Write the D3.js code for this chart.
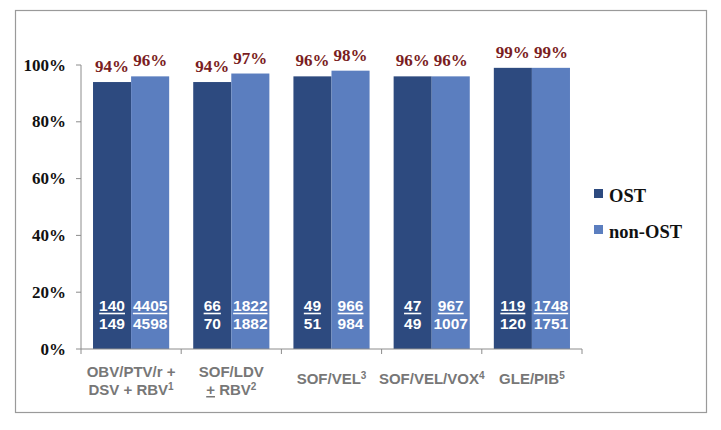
<!DOCTYPE html>
<html><head><meta charset="utf-8">
<script src="https://cdn.jsdelivr.net/npm/d3@7"></script>
<style>body{margin:0;background:#fff}svg{display:block}</style>
</head><body><svg id="c" width="721" height="430"></svg>
<script>
const categories = ["OBV/PTV/r + DSV + RBV1","SOF/LDV ± RBV2","SOF/VEL3","SOF/VEL/VOX4","GLE/PIB5"];
// each label line: array of [text, kind] where kind: n normal, s superscript, u underlined
const categoryLines = [
  [[["OBV/PTV/r +","n"]],[["DSV + RBV","n"],["1","s"]]],
  [[["SOF/LDV","n"]],[["+","u"],[" RBV","n"],["2","s"]]],
  [[["SOF/VEL","n"],["3","s"]]],
  [[["SOF/VEL/VOX","n"],["4","s"]]],
  [[["GLE/PIB","n"],["5","s"]]]
];
const seriesNames = ["OST","non-OST"];
const ostPct = [94,94,96,96,99];
const nonOstPct = [96,97,98,96,99];
const ostNum = [140,66,49,47,119];
const ostDen = [149,70,51,49,120];
const nonOstNum = [4405,1822,966,967,1748];
const nonOstDen = [4598,1882,984,1007,1751];
const yTicks = [0,20,40,60,80,100];

const colors = ["#2d4a7f","#5b7ebf"];
const svg = d3.select("#c");
svg.append("rect").attr("x",15.5).attr("y",10.5).attr("width",691).attr("height",402)
  .attr("fill","#fff").attr("stroke","#9a9a9a").attr("stroke-width",1.2);

const y = d3.scaleLinear().domain([0,100]).range([349,65]);
const x0 = d3.scaleBand().domain(categories).range([81,582]).paddingInner(0.24).paddingOuter(0.12);
const x1 = d3.scaleBand().domain(seriesNames).range([0,x0.bandwidth()]);

const pct = [ostPct, nonOstPct], num=[ostNum,nonOstNum], den=[ostDen,nonOstDen];
const data = [];
categories.forEach((c,i)=>seriesNames.forEach((s,j)=>data.push({c,i,s,j,v:pct[j][i],n:num[j][i],d:den[j][i]})));

const g = svg.append("g");
g.selectAll("rect.bar").data(data).join("rect").attr("class","bar")
  .attr("x",d=>x0(d.c)+x1(d.s)).attr("y",d=>y(d.v))
  .attr("width",x1.bandwidth()).attr("height",d=>y(0)-y(d.v)).attr("fill",d=>colors[d.j]);

// percent labels
g.selectAll("text.pct").data(data).join("text").attr("class","pct")
  .attr("x",d=>x0(d.c)+x1(d.s)+x1.bandwidth()/2).attr("y",d=>y(d.v)-10)
  .attr("text-anchor","middle").attr("font-family","Liberation Serif, serif").attr("font-weight","bold")
  .attr("font-size",17).attr("fill","#7a1d22").text(d=>d.v+"%");

// fractions
const fr = g.selectAll("g.fr").data(data).join("g").attr("class","fr")
  .attr("transform",d=>`translate(${x0(d.c)+x1(d.s)+x1.bandwidth()/2},0)`);
fr.append("text").attr("y",311).attr("text-anchor","middle").attr("font-family","Liberation Sans, Arial, sans-serif")
  .attr("font-weight","bold").attr("font-size",15.5).attr("fill","#fff").text(d=>d.n)
  .each(function(){ const w=this.getComputedTextLength(); d3.select(this.parentNode).append("line")
     .attr("x1",-w/2).attr("x2",w/2).attr("y1",313.5).attr("y2",313.5).attr("stroke","#fff").attr("stroke-width",1.6);});
fr.append("text").attr("y",329).attr("text-anchor","middle").attr("font-family","Liberation Sans, Arial, sans-serif")
  .attr("font-weight","bold").attr("font-size",15.5).attr("fill","#fff").text(d=>d.d);

// axes
const axisColor="#8c8c8c";
const ya = svg.append("g");
ya.append("line").attr("x1",81).attr("x2",81).attr("y1",y(100)).attr("y2",y(0)).attr("stroke",axisColor);
ya.selectAll("line.t").data(yTicks).join("line").attr("class","t").attr("x1",76).attr("x2",81)
  .attr("y1",d=>y(d)).attr("y2",d=>y(d)).attr("stroke",axisColor);
ya.selectAll("text").data(yTicks).join("text").attr("x",66).attr("y",d=>y(d)+5.5)
  .attr("text-anchor","end").attr("font-family","Liberation Serif, serif").attr("font-weight","bold")
  .attr("font-size",17).attr("fill","#111").text(d=>d+"%");

const xa = svg.append("g");
xa.append("line").attr("x1",81).attr("x2",582).attr("y1",y(0)).attr("y2",y(0)).attr("stroke",axisColor);
const bounds = categories.map(c=>x0(c)-x0.step()*x0.paddingInner()/2).concat([x0(categories[categories.length-1])+x0.bandwidth()+x0.step()*x0.paddingInner()/2]);
xa.selectAll("line.t").data(bounds).join("line").attr("class","t").attr("x1",d=>d).attr("x2",d=>d)
  .attr("y1",y(0)).attr("y2",y(0)+5).attr("stroke",axisColor);

categories.forEach((c,i)=>{
  const lines = categoryLines[i];
  const cx = x0(c)+x0.bandwidth()/2;
  const base = lines.length===2 ? [377,395] : [384];
  lines.forEach((ln,k)=>{
    const t = svg.append("text").attr("x",cx).attr("y",base[k]).attr("text-anchor","middle")
      .attr("font-family","Liberation Sans, Arial, sans-serif").attr("font-weight","bold")
      .attr("font-size",15).attr("fill","#777");
    ln.forEach(([s,kind])=>{
      const ts=t.append("tspan").text(s);
      if(kind==="s") ts.attr("font-size",10).attr("dy",-5);
      if(kind==="u") ts.attr("text-decoration","underline");
    });
  });
});

// legend
const lg = svg.append("g");
seriesNames.forEach((s,j)=>{
  lg.append("rect").attr("x",594).attr("y",189+j*36).attr("width",9).attr("height",9).attr("fill",colors[j]);
  lg.append("text").attr("x",609).attr("y",202+j*36).attr("font-family","Liberation Serif, serif")
    .attr("font-weight","bold").attr("font-size",18.5).attr("fill","#111").text(s);
});
</script></body></html>
